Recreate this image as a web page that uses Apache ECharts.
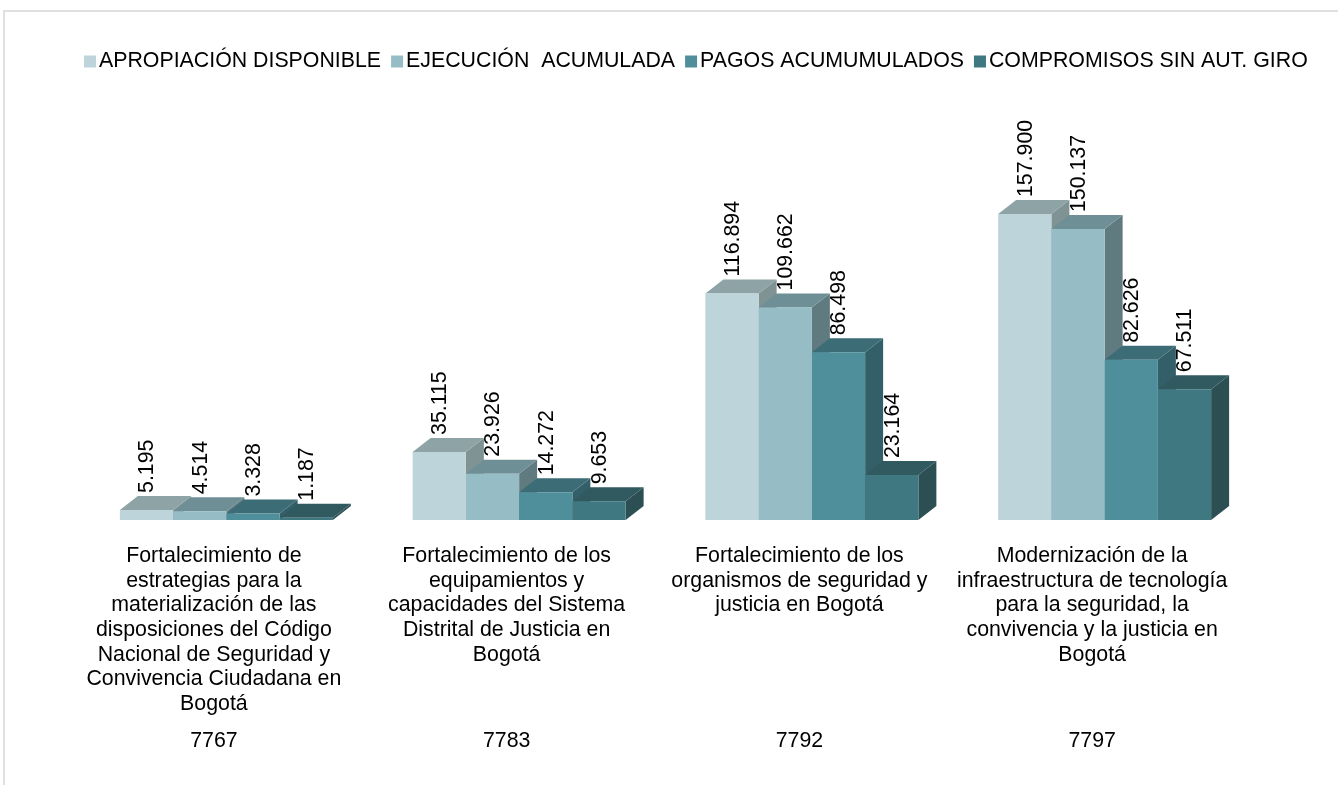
<!DOCTYPE html>
<html><head><meta charset="utf-8">
<style>html,body{margin:0;padding:0;background:#fff;overflow:hidden}
#frame{position:absolute;left:3px;top:10px;width:1340px;height:790px;border:2px solid #E0E0E0;box-sizing:border-box}
#c{position:absolute;left:0;top:0;width:1338px;height:785px}</style>
<script src="https://cdn.jsdelivr.net/npm/echarts@6/dist/echarts.min.js"></script>
</head><body><div id="frame"></div><div id="c"></div>
<script>
const names = [
 'Fortalecimiento de\nestrategias para la\nmaterialización de las\ndisposiciones del Código\nNacional de Seguridad y\nConvivencia Ciudadana en\nBogotá',
 'Fortalecimiento de los\nequipamientos y\ncapacidades del Sistema\nDistrital de Justicia en\nBogotá',
 'Fortalecimiento de los\norganismos de seguridad y\njusticia en Bogotá',
 'Modernización de la\ninfraestructura de tecnología\npara la seguridad, la\nconvivencia y la justicia en\nBogotá'];
const codes = ['7767','7783','7792','7797'];
const apropiacion = [5195,35115,116894,157900];
const ejecucion = [4514,23926,109662,150137];
const pagos = [3328,14272,86498,82626];
const compromisos = [1187,9653,23164,67511];
const seriesNames = ['APROPIACIÓN DISPONIBLE','EJECUCIÓN  ACUMULADA','PAGOS ACUMUMULADOS','COMPROMISOS SIN AUT. GIRO'];
const seriesData = [apropiacion,ejecucion,pagos,compromisos];
const front = ['#BDD4DA','#96BDC6','#4F8F9C','#3F7881'];
const topC  = ['#8EA3A6','#6E8F95','#3C6C76','#315A60'];
const sideC = ['#7F9294','#5F7B80','#335F68','#2C4F54'];
const barW = 53.25, dx = 18, dy = 14;
const fs = 21.33;
const fmt = v => String(v).replace(/\B(?=(\d{3})+$)/g,'.');
const chart = echarts.init(document.getElementById('c'),null,{renderer:'canvas'});
const mk = (si) => ({
  name: seriesNames[si], type:'custom', xAxisIndex:0, yAxisIndex:0, z:2+si,
  itemStyle:{color:front[si]},
  encode:{x:0,y:1},
  data: seriesData[si].map((v,i)=>[i,v]),
  renderItem(params,api){
    const p = api.coord([api.value(0),api.value(1)]);
    const b = api.coord([api.value(0),0]);
    const x0 = p[0]-2*barW+si*barW, x1 = x0+barW, yT=p[1], yB=b[1];
    return {type:'group',children:[
      {type:'polygon',shape:{points:[[x1,yT],[x1+dx,yT-dy],[x1+dx,yB-dy],[x1,yB]]},style:{fill:sideC[si]}},
      {type:'polygon',shape:{points:[[x0,yT],[x0+dx,yT-dy],[x1+dx,yT-dy],[x1,yT]]},style:{fill:topC[si]}},
      {type:'rect',shape:{x:x0,y:yT,width:barW,height:yB-yT},style:{fill:front[si]}},
      {type:'text',x:(x0+x1)/2+1,y:yT-dy-3,rotation:Math.PI/2,z2:50,
       style:{text:fmt(api.value(1)),font:fs+'px "Liberation Sans"',fill:'#000',align:'left',verticalAlign:'middle'}}
    ]};
  }
});
chart.setOption({
  animation:false,
  legend:{left:79,top:46,itemWidth:12,itemHeight:12,itemGap:10,icon:'rect',
    textStyle:{fontFamily:'Liberation Sans',fontSize:fs,color:'#000',padding:[0,0,0,-2]},
    data:seriesNames},
  grid:[{left:80,width:1171,top:132.4,height:387.6},
        {left:67.5,width:1171,top:132.4,height:387.6}],
  xAxis:[
    {type:'category',data:[0,1,2,3].map(String),gridIndex:0,position:'bottom',axisLine:{show:false},axisTick:{show:false},axisLabel:{show:false}},
    {type:'category',data:names,gridIndex:1,position:'bottom',axisLine:{show:false},axisTick:{show:false},
     axisLabel:{interval:0,fontFamily:'Liberation Sans',fontSize:fs,lineHeight:24.6,color:'#000',margin:24,verticalAlign:'top',align:'center'}},
    {type:'category',data:codes,gridIndex:1,position:'bottom',offset:211,axisLine:{show:false},axisTick:{show:false},
     axisLabel:{interval:0,fontFamily:'Liberation Sans',fontSize:fs,color:'#000',margin:0,verticalAlign:'top'}}
  ],
  yAxis:[{type:'value',min:0,max:200000,interval:50000,show:false,gridIndex:0},
         {type:'value',min:0,max:200000,interval:50000,show:false,gridIndex:1}],
  series:[0,1,2,3].map(mk)
});
</script></body></html>
